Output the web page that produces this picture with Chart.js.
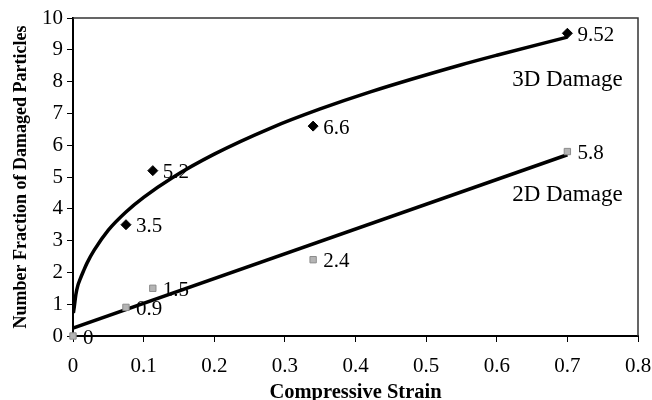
<!DOCTYPE html>
<html lang="en">
<head>
    <meta charset="UTF-8">
    <title>Damaged Particles vs Strain</title>
    <script src="https://cdn.jsdelivr.net/npm/chart.js"></script>
    <style>
        html, body { margin: 0; padding: 0; background: #fff; }
        .chart-container { position: relative; width: 652px; height: 400px; }
    </style>
</head>
<body>

<div class="chart-container">
    <canvas id="damageChart" width="652" height="400"></canvas>
</div>

<script>
// measured points
const strain3D = [0.075, 0.113, 0.34, 0.70];
const damage3D = [3.5, 5.2, 6.6, 9.52];
const strain2D = [0, 0.075, 0.113, 0.34, 0.70];
const damage2D = [0, 0.9, 1.5, 2.4, 5.8];

// trendlines
const trendStrain3D = [0.0005, 0.002, 0.004, 0.007, 0.01, 0.015, 0.02, 0.03, 0.05, 0.075, 0.1, 0.14, 0.2, 0.28, 0.35, 0.42, 0.55, 0.6, 0.7];
const trendDamage3D = [0.72, 0.95, 1.3, 1.6, 1.78, 2.05, 2.3, 2.7, 3.33, 3.9, 4.36, 4.97, 5.72, 6.54, 7.14, 7.67, 8.53, 8.83, 9.4];
const trendStrain2D = [0, 0.70];
const trendDamage2D = [0.25, 5.7];

const seriesNames = ['3D Damage', '2D Damage'];
const seriesNamePos = [[0.70, 8.05], [0.70, 4.43]];

const serif = "'Liberation Serif', 'Times New Roman', serif";

function toPoints(xs, ys) {
    return xs.map((x, i) => ({ x: x, y: ys[i] }));
}

const frameAndLabels = {
    id: 'frameAndLabels',
    afterDatasetsDraw(chart) {
        const ctx = chart.ctx;
        const a = chart.chartArea;
        const xs = chart.scales.x, ys = chart.scales.y;
        ctx.save();
        ctx.strokeStyle = '#333';
        ctx.lineWidth = 1.5;
        ctx.beginPath();
        ctx.moveTo(a.left, a.top);
        ctx.lineTo(a.right, a.top);
        ctx.lineTo(a.right, a.bottom);
        ctx.stroke();

        ctx.fillStyle = '#000';
        ctx.font = '21px ' + serif;
        ctx.textBaseline = 'middle';
        ctx.textAlign = 'left';
        [0, 1].forEach(di => {
            const meta = chart.getDatasetMeta(di);
            const vals = di === 0 ? damage3D : damage2D;
            meta.data.forEach((pt, i) => {
                ctx.fillText(String(vals[i]), pt.x + 10, pt.y + 2);
            });
        });

        ctx.font = '23px ' + serif;
        ctx.textAlign = 'center';
        seriesNames.forEach((name, i) => {
            const p = seriesNamePos[i];
            ctx.fillText(name, xs.getPixelForValue(p[0]), ys.getPixelForValue(p[1]));
        });
        ctx.restore();
    }
};

new Chart(document.getElementById('damageChart').getContext('2d'), {
    type: 'scatter',
    data: {
        datasets: [
            {
                label: '3D Damage',
                data: toPoints(strain3D, damage3D),
                pointStyle: 'rectRot',
                pointRadius: 5,
                backgroundColor: '#000',
                borderColor: '#000',
                borderWidth: 1,
                clip: false,
                order: 0
            },
            {
                label: '2D Damage',
                data: toPoints(strain2D, damage2D),
                pointStyle: 'rect',
                pointRadius: 4.5,
                backgroundColor: '#b4b4b4',
                borderColor: '#8c8c8c',
                borderWidth: 1,
                clip: false,
                order: 0
            },
            {
                label: '3D trend',
                data: toPoints(trendStrain3D, trendDamage3D),
                showLine: true,
                pointRadius: 0,
                borderColor: '#000',
                borderWidth: 3.5,
                cubicInterpolationMode: 'monotone',
                order: 1
            },
            {
                label: '2D trend',
                data: toPoints(trendStrain2D, trendDamage2D),
                showLine: true,
                pointRadius: 0,
                borderColor: '#000',
                borderWidth: 3.5,
                order: 1
            }
        ]
    },
    options: {
        responsive: false,
        animation: false,
        layout: { padding: { top: 18, right: 14, left: 0, bottom: 0 } },
        plugins: {
            legend: { display: false },
            tooltip: { enabled: false }
        },
        scales: {
            x: {
                type: 'linear',
                min: 0,
                max: 0.8,
                afterFit: s => { s.height = 64; s.paddingLeft = 0; s.paddingRight = 0; },
                grid: { display: true, drawOnChartArea: false, drawTicks: true, tickLength: 6, color: '#000' },
                border: { display: true, color: '#000', width: 2 },
                ticks: {
                    stepSize: 0.1,
                    color: '#000',
                    padding: 12,
                    font: { family: serif, size: 21 },
                    callback: v => String(+v.toFixed(1))
                },
                title: {
                    display: true,
                    text: 'Compressive Strain',
                    color: '#000',
                    padding: { top: 0, bottom: -1 },
                    font: { family: serif, size: 20.5, weight: 'bold', lineHeight: 0.85 }
                }
            },
            y: {
                min: 0,
                max: 10,
                afterFit: s => { s.width = 73; s.paddingTop = 0; s.paddingBottom = 0; },
                grid: { display: true, drawOnChartArea: false, drawTicks: true, tickLength: 6, color: '#000' },
                border: { display: true, color: '#000', width: 2 },
                ticks: {
                    stepSize: 1,
                    color: '#000',
                    padding: 4,
                    font: { family: serif, size: 21 }
                },
                title: {
                    display: true,
                    text: 'Number Fraction of Damaged Particles',
                    color: '#000',
                    padding: { top: 11, bottom: 2 },
                    font: { family: serif, size: 18, weight: 'bold' }
                }
            }
        }
    },
    plugins: [frameAndLabels]
});
</script>

</body>
</html>
